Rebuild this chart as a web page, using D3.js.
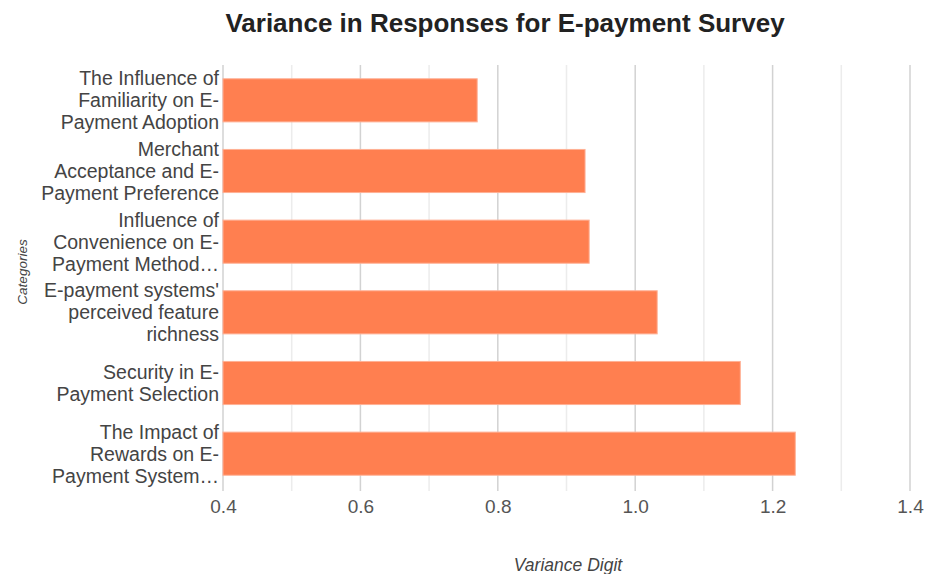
<!DOCTYPE html>
<html>
<head>
<meta charset="utf-8">
<script src="https://cdn.jsdelivr.net/npm/d3@7"></script>
<style>
  html, body { margin: 0; padding: 0; background: #fff; }
  svg { display: block; font-family: "Liberation Sans", Arial, sans-serif; }
</style>
</head>
<body>
<svg id="chart" width="926" height="574"></svg>
<script>
// Category labels as displayed (line breaks and truncation as in the original chart)
const categories = [
  "The Influence of\nFamiliarity on E-\nPayment Adoption",
  "Merchant\nAcceptance and E-\nPayment Preference",
  "Influence of\nConvenience on E-\nPayment Method…",
  "E-payment systems'\nperceived feature\nrichness",
  "Security in E-\nPayment Selection",
  "The Impact of\nRewards on E-\nPayment System…"
];
const variances = [0.770, 0.927, 0.933, 1.032, 1.153, 1.233];
const majorTicks = [0.4, 0.6, 0.8, 1.0, 1.2, 1.4];
const gridTicks = [0.4, 0.5, 0.6, 0.7, 0.8, 0.9, 1.0, 1.1, 1.2, 1.3, 1.4];
const titleText = "Variance in Responses for E-payment Survey";
const xTitle = "Variance Digit";
const yTitle = "Categories";

const svg = d3.select("#chart");
const margin = {left: 223, right: 16, top: 65, bottom: 85};
const W = 926, H = 574;

const x = d3.scaleLinear().domain([0.4, 1.4]).range([margin.left, W - margin.right]);
const y = d3.scaleBand().domain(categories).range([margin.top, H - margin.bottom])
  .paddingInner(0.39).paddingOuter(0.195);

// gridlines
svg.append("g").selectAll("line").data(gridTicks).join("line")
  .attr("x1", d => x(d)).attr("x2", d => x(d))
  .attr("y1", margin.top).attr("y2", H - margin.bottom + 2)
  .attr("stroke", (d, i) => i % 2 === 0 ? "#d2d2d2" : "#ececec")
  .attr("stroke-width", 1.5);

// bars
svg.append("g").selectAll("rect").data(categories).join("rect")
  .attr("x", x(0.4))
  .attr("y", d => y(d))
  .attr("width", (d, i) => x(variances[i]) - x(0.4))
  .attr("height", y.bandwidth())
  .attr("fill", "#ff7f50")
  .attr("stroke", "#ffb095")
  .attr("stroke-width", 1);

// x axis tick labels
const xAxis = d3.axisBottom(x).tickValues(majorTicks).tickFormat(d3.format(".1f")).tickSize(0).tickPadding(0);
const gx = svg.append("g").attr("transform", `translate(0,${H - margin.bottom})`).call(xAxis);
gx.select(".domain").remove();
gx.selectAll("text").attr("font-size", 19).attr("fill", "#555")
  .attr("font-family", "Liberation Sans, Arial, sans-serif")
  .attr("dy", null).attr("y", 24);

// y axis labels (multi-line)
const lineH = 22, fs = 19.5;
const yAxis = d3.axisLeft(y).tickSize(0).tickPadding(4).tickFormat("");
const gy = svg.append("g").attr("transform", `translate(${margin.left},0)`).call(yAxis);
gy.select(".domain").remove();
gy.selectAll(".tick").each(function(c) {
  const lines = c.split("\n");
  const t = d3.select(this).select("text")
    .attr("font-size", fs)
    .attr("fill", "#444")
    .attr("font-family", "Liberation Sans, Arial, sans-serif")
    .attr("dy", null);
  t.selectAll("tspan").data(lines).join("tspan")
    .attr("x", -4)
    .attr("y", (l, i) => (i - (lines.length - 1) / 2) * lineH + 7)
    .text(l => l);
});

// title
svg.append("text").attr("x", 505).attr("y", 32).attr("text-anchor", "middle")
  .attr("font-size", 26).attr("font-weight", "bold").attr("fill", "#222")
  .text(titleText);

// axis titles
svg.append("text").attr("x", 568).attr("y", 571).attr("text-anchor", "middle")
  .attr("font-size", 17.5).attr("font-style", "italic").attr("fill", "#444")
  .text(xTitle);
svg.append("text").attr("transform", "translate(27,272) rotate(-90)").attr("text-anchor", "middle")
  .attr("font-size", 13.5).attr("font-style", "italic").attr("fill", "#444")
  .text(yTitle);
</script>
</body>
</html>
